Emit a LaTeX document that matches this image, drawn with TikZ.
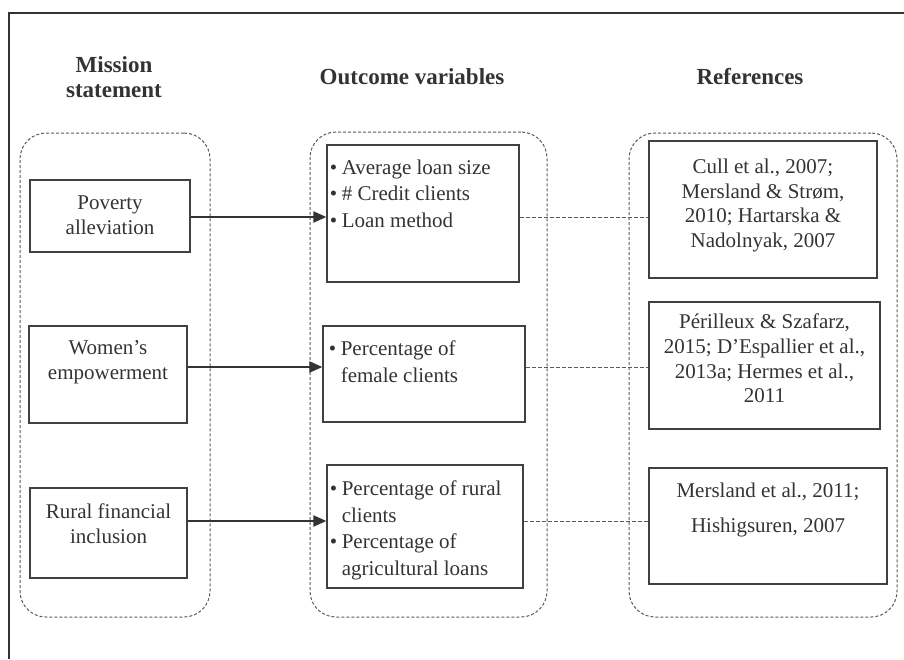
\documentclass[tikz,border=0pt]{standalone}
\usepackage{fontspec}
\setmainfont{Liberation Serif}
\usepackage{xcolor}
\usetikzlibrary{arrows.meta,positioning}

\definecolor{ink}{HTML}{333333}
\definecolor{edge}{HTML}{404040}
\definecolor{grp}{HTML}{5A5A5A}

% bullet and hanging continuation for the outcome lists
\newcommand{\bul}{\makebox[6pt][l]{\textbullet}}
\newcommand{\cont}{\hspace*{6pt}}

\begin{document}
\begin{tikzpicture}[
  x=0.5pt, y=-0.5pt,
  font=\fontsize{10.5}{12.4}\selectfont,
  text=ink,
  >={Triangle[length=6.5pt,width=5.5pt]},
  group/.style={draw=grp, line width=0.5pt, dash pattern=on 1.5pt off 1pt, rounded corners=13pt, inner sep=0pt},
  box/.style={draw=edge, line width=0.6pt, inner sep=0pt},
  head/.style={font=\fontsize{11.5}{12.6}\selectfont\bfseries, align=center},
  txt/.style={align=center, inner sep=0pt, anchor=north},
  list/.style={font=\fontsize{10.5}{13.3}\selectfont, align=left, inner sep=0pt, anchor=north west},
  arrow/.style={->, line width=1pt, draw=ink},
  link/.style={draw=grp, line width=0.5pt, dash pattern=on 2pt off 1pt}
]
\useasboundingbox (0,0) rectangle (904,659);

% frame
\draw[ink, line width=0.6pt] (9,659) -- (9,13) -- (904,13);

% column headers
\node[head] (hmis) at (114,77.5) {Mission\\statement};
\node[head] (hout) at (412,77) {Outcome variables};
\node[head] (href) at (750,77) {References};

% dashed groups
\node[group, minimum width=95pt, minimum height=242pt] (gmis) at (115,375) {};
\node[group, minimum width=118.5pt, minimum height=242.5pt] (gout) at (428.5,374.5) {};
\node[group, minimum width=134pt, minimum height=242pt] (gref) at (763,375) {};

% mission boxes
\node[box, minimum width=80pt, minimum height=36pt] (pov) at (110,216) {};
\node[box, minimum width=79pt, minimum height=48.5pt] (wom) at (108,374.5) {};
\node[box, minimum width=78.5pt, minimum height=45pt] (rur) at (108.5,533) {};
\node[txt] (pov-t) at ([yshift=-8pt]pov.north) {Poverty\\alleviation};
\node[txt] (wom-t) at ([yshift=-7.5pt]wom.north) {Women’s\\empowerment};
\node[txt] (rur-t) at ([yshift=-8pt]rur.north) {Rural financial\\inclusion};

% outcome boxes
\node[box, minimum width=96pt, minimum height=68.5pt] (out1) at (423,213.5) {};
\node[box, minimum width=101pt, minimum height=48pt] (out2) at (424,374) {};
\node[box, minimum width=98pt, minimum height=61.5pt] (out3) at (425,526.5) {};
\node[list] (out1-t) at ([xshift=1.5pt,yshift=-7.5pt]out1.north west)
  {\bul Average loan size\\\bul\# Credit clients\\\bul Loan method};
\node[list] (out2-t) at ([xshift=3pt,yshift=-7.5pt]out2.north west)
  {\bul Percentage of\\\cont female clients};
\node[list] (out3-t) at ([xshift=1.5pt,yshift=-8pt]out3.north west)
  {\bul Percentage of rural\\\cont clients\\\bul Percentage of\\\cont agricultural loans};

% reference boxes
\node[box, minimum width=114pt, minimum height=68.5pt] (ref1) at (763,209.5) {};
\node[box, minimum width=115.5pt, minimum height=63.5pt] (ref2) at (764.5,365.5) {};
\node[box, minimum width=119pt, minimum height=58pt] (ref3) at (768,526) {};
\node[txt] (ref1-t) at ([yshift=-9pt]ref1.north) {Cull et al., 2007;\\Mersland \& Strøm,\\2010; Hartarska \&\\Nadolnyak, 2007};
\node[txt] (ref2-t) at ([yshift=-6pt]ref2.north) {Périlleux \& Szafarz,\\2015; D’Espallier et al.,\\2013a; Hermes et al.,\\2011};
\node[txt] (ref3-t) at ([yshift=-7.5pt]ref3.north) {Mersland et al., 2011;\\[5pt]Hishigsuren, 2007};

% rows
\coordinate (r1) at (0,217);
\coordinate (r2) at (0,367);
\coordinate (r3) at (0,521);

\draw[arrow] (pov.east |- r1) -- (out1.west |- r1);
\draw[arrow] (wom.east |- r2) -- (out2.west |- r2);
\draw[arrow] (rur.east |- r3) -- (out3.west |- r3);

\draw[link] (out1.east |- r1) -- (ref1.west |- r1);
\draw[link] (out2.east |- r2) -- (ref2.west |- r2);
\draw[link] (out3.east |- r3) -- (ref3.west |- r3);

\end{tikzpicture}
\end{document}
